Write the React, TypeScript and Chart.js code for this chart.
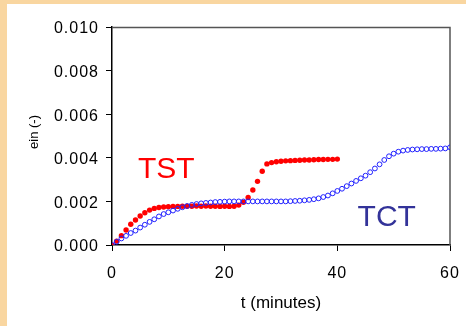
import React, { useEffect, useRef } from "react";
import { Chart, registerables } from "chart.js";

Chart.register(...registerables);

// Time (minutes)
const tstTime = [0, 0.83, 1.67, 2.5, 3.33, 4.17, 5, 5.83, 6.67, 7.5, 8.33, 9.17, 10, 10.83, 11.67, 12.5, 13.33, 14.17, 15, 15.83, 16.67, 17.5, 18.33, 19.17, 20, 20.83, 21.67, 22.5, 23.33, 24.17, 25, 25.83, 26.67, 27.5, 28.33, 29.17, 30, 30.83, 31.67, 32.5, 33.33, 34.17, 35, 35.83, 36.67, 37.5, 38.33, 39.17, 40];
const tstStrain = [0, 0.00018, 0.00043, 0.00069, 0.00095, 0.00115, 0.00133, 0.00148, 0.0016, 0.00168, 0.00172, 0.00174, 0.00176, 0.00177, 0.00177, 0.00178, 0.00178, 0.00178, 0.00179, 0.00178, 0.00179, 0.00178, 0.00178, 0.00177, 0.00178, 0.00177, 0.00178, 0.00183, 0.00196, 0.00218, 0.00252, 0.00292, 0.00338, 0.00372, 0.00378, 0.00382, 0.00384, 0.00386, 0.00387, 0.00388, 0.00389, 0.0039, 0.0039, 0.00391, 0.00392, 0.00392, 0.00393, 0.00393, 0.00394];

const tctTime = [0, 0.83, 1.67, 2.5, 3.33, 4.17, 5, 5.83, 6.67, 7.5, 8.33, 9.17, 10, 10.83, 11.67, 12.5, 13.33, 14.17, 15, 15.83, 16.67, 17.5, 18.33, 19.17, 20, 20.83, 21.67, 22.5, 23.33, 24.17, 25, 25.83, 26.67, 27.5, 28.33, 29.17, 30, 30.83, 31.67, 32.5, 33.33, 34.17, 35, 35.83, 36.67, 37.5, 38.33, 39.17, 40, 40.83, 41.67, 42.5, 43.33, 44.17, 45, 45.83, 46.67, 47.5, 48.33, 49.17, 50, 50.83, 51.67, 52.5, 53.33, 54.17, 55, 55.83, 56.67, 57.5, 58.33, 59.17, 60];
const tctStrain = [0, 0.00015, 0.0003, 0.00042, 0.00055, 0.00066, 0.0008, 0.00093, 0.00106, 0.00118, 0.00131, 0.00142, 0.0015, 0.00158, 0.00166, 0.00173, 0.00179, 0.00184, 0.00188, 0.00191, 0.00193, 0.00195, 0.00197, 0.00198, 0.00199, 0.002, 0.002, 0.002, 0.002, 0.002, 0.002, 0.002, 0.002, 0.002, 0.002, 0.002, 0.002, 0.002, 0.00201, 0.00202, 0.00203, 0.00205, 0.00207, 0.0021, 0.00214, 0.0022, 0.00227, 0.00237, 0.00248, 0.00258, 0.0027, 0.00282, 0.00294, 0.00306, 0.00318, 0.00334, 0.00351, 0.0037, 0.0039, 0.00407, 0.00419, 0.00428, 0.00433, 0.00436, 0.00438, 0.00439, 0.0044, 0.0044, 0.00441, 0.00441, 0.00442, 0.00443, 0.00448];

const xTickValues = [0, 20, 40, 60];
const yTickValues = [0, 0.002, 0.004, 0.006, 0.008, 0.01];

const seriesLabels = ["TCT", "TST"];
const xTitle = "t (minutes)";
const yTitle = "ein (-)";
// Text labels placed in data coordinates (left edge, baseline)
const labelTexts = ["TST", "TCT"];
const labelX = [4.6, 43.6];
const labelY = [0.00307, 0.00087];
const labelColors = ["#ff0000", "#333399"];

const FONT = "'Liberation Sans', Arial, sans-serif";

export default function App() {
  const ref = useRef<HTMLCanvasElement | null>(null);

  useEffect(() => {
    if (!ref.current) return;
    const framePlugin = {
      id: "frame",
      beforeDraw(chart: any) {
        (chart.ctx as any).letterSpacing = "1px";
      },
      beforeDatasetsDraw(chart: any) {
        const { ctx, chartArea } = chart;
        (ctx as any).letterSpacing = "0px";
        ctx.save();
        ctx.strokeStyle = "#555555";
        ctx.lineWidth = 1.5;
        ctx.beginPath();
        ctx.moveTo(chartArea.left, chartArea.top + 0.5);
        ctx.lineTo(chartArea.right, chartArea.top + 0.5);
        ctx.lineTo(chartArea.right, chartArea.bottom);
        ctx.stroke();
        ctx.restore();
      },
      afterDraw(chart: any) {
        const { ctx, scales, chartArea } = chart;
        ctx.save();
        (ctx as any).letterSpacing = "0px";
        ctx.fillStyle = "#000";
        ctx.textAlign = "center";
        ctx.textBaseline = "middle";
        ctx.font = `17px ${FONT}`;
        ctx.fillText(xTitle, (chartArea.left + chartArea.right) / 2, chartArea.bottom + 58);
        ctx.save();
        ctx.translate(chartArea.left - 78, (chartArea.top + chartArea.bottom) / 2 - 4);
        ctx.rotate(-Math.PI / 2);
        ctx.font = `13px ${FONT}`;
        ctx.fillText(yTitle, 0, 0);
        ctx.restore();

        ctx.font = `30px ${FONT}`;
        ctx.textAlign = "left";
        ctx.textBaseline = "alphabetic";
        labelTexts.forEach((t, i) => {
          ctx.fillStyle = labelColors[i];
          ctx.fillText(t, scales.x.getPixelForValue(labelX[i]), scales.y.getPixelForValue(labelY[i]));
        });
        ctx.restore();
      },
    };

    const chart = new Chart(ref.current, {
      type: "scatter",
      data: {
        datasets: [
          {
            label: seriesLabels[0],
            data: tctTime.map((t, i) => ({ x: t, y: tctStrain[i] })),
            pointStyle: "circle",
            pointRadius: 2.4,
            pointBorderWidth: 1,
            pointBorderColor: "#2020ff",
            pointBackgroundColor: "rgba(255,255,255,0)",
            showLine: false,
          },
          {
            label: seriesLabels[1],
            data: tstTime.map((t, i) => ({ x: t, y: tstStrain[i] })),
            pointStyle: "circle",
            pointRadius: 2.7,
            pointBorderWidth: 0,
            pointBorderColor: "#ff0000",
            pointBackgroundColor: "#ff0000",
            showLine: false,
          },
        ],
      },
      options: {
        animation: false,
        responsive: false,
        devicePixelRatio: 1,
        layout: { padding: { top: 23, right: 16, left: 0, bottom: 0 } },
        plugins: { legend: { display: false }, tooltip: { enabled: false } },
        scales: {
          x: {
            type: "linear",
            min: 0,
            max: 60,
            afterBuildTicks: (s: any) => {
              s.ticks = xTickValues.map((v) => ({ value: v }));
            },
            afterFit: (s: any) => {
              s.height = 81;
            },
            ticks: {
              font: { family: FONT, size: 16, lineHeight: "45px" },
              color: "#000",
              padding: 0,
              maxRotation: 0,
            },
            grid: {
              drawOnChartArea: false,
              drawTicks: true,
              tickLength: 6,
              tickColor: "#000",
              tickWidth: 1,
            },
            border: { display: true, color: "#000", width: 1.5 },
            title: { display: false },
          },
          y: {
            type: "linear",
            min: 0,
            max: 0.01,
            afterBuildTicks: (s: any) => {
              s.ticks = yTickValues.map((v) => ({ value: v }));
            },
            afterFit: (s: any) => {
              s.width = 105;
            },
            ticks: {
              font: { family: FONT, size: 16 },
              color: "#000",
              padding: 7,
              labelOffset: 2,
              callback: (v: any) => Number(v).toFixed(3),
            },
            grid: {
              drawOnChartArea: false,
              drawTicks: true,
              tickLength: 6,
              tickColor: "#000",
              tickWidth: 1,
            },
            border: { display: true, color: "#000", width: 1.5 },
            title: { display: false },
          },
        },
      },
      plugins: [framePlugin],
    } as any);
    return () => chart.destroy();
  }, []);

  return (
    <div
      style={{
        position: "fixed",
        left: 0,
        top: 0,
        width: 466,
        height: 326,
        background: "#f9d6a0",
      }}
    >
      <div
        style={{
          position: "absolute",
          left: 7,
          top: 4,
          width: 459,
          height: 322,
          background: "#ffffff",
        }}
      >
        <canvas ref={ref} width={459} height={322} style={{ display: "block" }} />
      </div>
    </div>
  );
}
